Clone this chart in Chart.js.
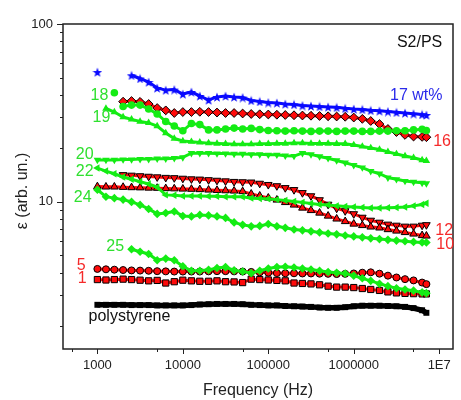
<!DOCTYPE html>
<html>
<head>
<meta charset="utf-8">
<script src="https://cdn.jsdelivr.net/npm/chart.js@4.4.0/dist/chart.umd.min.js"></script>
<style>
  html, body { margin: 0; padding: 0; background: #fff; }
  #wrap { width: 461px; height: 400px; }
</style>
</head>
<body>
<div id="wrap"><canvas id="chart" width="461" height="400"></canvas></div>
<script>
// frequency grid (Hz), shared by every curve
const freq = [1000, 1260, 1580, 2000, 2510, 3160, 3980, 5010, 6310, 7940,
  10000, 12600, 15800, 20000, 25100, 31600, 39800, 50100, 63100, 79400,
  100000, 126000, 158000, 200000, 251000, 316000, 398000, 501000, 631000, 794000,
  1000000, 1260000, 1580000, 2000000, 2510000, 3160000, 3980000, 5010000, 6310000, 7080000];

// permittivity, one list per filler content
const polystyrene = [2.64,2.64,2.64,2.64,2.63,2.63,2.63,2.62,2.62,2.62, 2.62,2.63,2.65,2.66,2.67,2.67,2.67,2.66,2.64,2.63,
  2.62,2.62,2.60,2.59,2.58,2.57,2.55,2.54,2.54,2.56, 2.59,2.61,2.61,2.61,2.60,2.59,2.57,2.53,2.46,2.38];
const wt1 = [3.66,3.64,3.66,3.68,3.66,3.63,3.60,3.62,3.50,3.56, 3.63,3.60,3.58,3.58,3.60,3.56,3.55,3.52,3.68,3.66,
  3.64,3.62,3.60,3.50,3.48,3.46,3.42,3.36,3.32,3.32, 3.30,3.26,3.22,3.18,3.12,3.08,3.06,3.05,3.04,3.04];
const wt5 = [4.20,4.18,4.16,4.14,4.12,4.11,4.10,4.08,4.07,4.06, 4.06,4.06,4.06,4.07,4.08,4.08,4.07,4.06,4.04,4.02,
  4.00,3.98,3.97,3.97,3.96,3.96,3.95,3.94,3.93,3.94, 3.96,4.00,4.02,3.95,3.85,3.76,3.68,3.62,3.52,3.45];
const wt10 = [12.2,12.15,12.15,12.1,12.05,12.02,11.98,11.95,11.9,11.87, 11.83,11.8,11.75,11.68,11.63,11.58,11.53,11.45,11.09,10.81,
  10.53,10.26,9.94,9.62,9.25,8.96,8.67,8.34,8.03,7.77, 7.52,7.38,7.24,7.15,7.0,6.87,6.74,6.61,6.48,6.44];
const wt12 = [null,null,null,14.2,14.1,14.0,13.9,13.8,13.7,13.65, 13.55,13.45,13.4,13.3,13.2,13.1,13.0,12.95,12.9,12.7,
  12.5,12.3,12.0,11.7,11.25,10.8,10.26,9.68,9.2,8.9, 8.56,8.18,7.87,7.67,7.48,7.38,7.29,7.29,7.38,7.43];
const wt16 = [null,null,null,36.6,36.9,36.5,35.5,33.7,32.7,31.6, 32.0,32.0,32.1,32.0,31.8,31.6,31.6,31.4,31.2,31.1,
  31.0,30.9,30.8,30.7,30.6,30.5,30.4,30.3,30.2,30.1, 29.8,29.3,28.5,27.4,25.7,24.7,23.8,23.3,23.2,23.1];
const wt17 = [53.7,null,null,null,51.5,49.4,47.2,43.7,42.5,42.8, 40.4,41.5,39.4,37.4,38.9,39.4,38.9,38.6,37.2,36.7,
  36.2,36.0,35.5,35.3,34.8,34.6,34.4,34.2,34.0,33.6, 33.3,33.1,32.7,32.5,32.2,31.9,31.6,31.3,31.0,30.8];
const wt18 = [null,null,41.1,34.4,35.0,35.0,33.3,31.2,28.3,26.7, 25.1,27.6,27.2,25.4,25.4,25.7,26.0,25.7,25.9,25.5,
  25.2,25.1,25.0,25.1,25.0,24.9,25.0,25.0,24.9,25.0, 25.0,24.9,24.9,25.0,25.0,25.1,25.1,25.4,25.6,25.2];
const wt19 = [null,33.5,32.0,30.0,29.1,28.3,27.8,26.7,24.4,22.7, 22.0,21.8,21.6,21.4,21.3,21.2,21.1,21.1,21.1,21.2,
  21.2,21.3,21.3,21.4,21.4,21.3,21.3,21.3,21.2,21.2, 20.9,20.5,20.1,19.7,19.1,18.6,18.1,17.7,17.2,17.0];
const wt20 = [17.2,17.2,17.2,17.3,17.3,17.4,17.4,17.5,17.5,17.6, 17.8,18.8,18.8,18.8,18.7,18.7,18.6,18.6,18.5,18.5,
  18.4,18.4,18.2,18.1,18.8,18.5,18.0,17.6,17.1,16.6, 16.1,15.6,14.9,14.4,13.7,13.4,13.1,12.95,12.8,12.7];
const wt22 = [15.5,14.9,14.4,13.8,13.4,13.0,12.6,12.1,10.95,10.9, 10.8,10.8,10.8,10.75,10.75,10.7,10.7,10.7,10.5,10.45,
  10.4,10.3,10.2,10.05,9.94,9.8,9.68,9.62,9.5,9.43, 9.37,9.31,9.25,9.25,9.27,9.31,9.37,9.5,9.68,9.83];
const wt24 = [11.7,10.7,10.5,10.3,10.0,9.62,9.13,8.56,8.67,8.84, 8.34,8.29,8.45,8.40,8.29,8.13,7.67,7.43,7.29,7.33,
  7.52,7.29,7.15,7.00,6.92,6.83,6.74,6.65,6.57,6.48, 6.40,6.32,6.24,6.18,6.12,6.06,6.01,5.96,5.92,5.91];
const wt25 = [null,null,null,null,5.42,5.25,5.10,4.70,4.80,4.70, 4.35,4.10,4.10,4.15,4.25,4.30,4.12,4.06,3.98,4.10,
  4.22,4.30,4.32,4.28,4.22,4.17,4.10,4.04,4.00,3.96, 3.85,3.72,3.60,3.47,3.36,3.27,3.22,3.17,3.10,3.07];

// axis ticks
const xMajor = [1000, 10000, 100000, 1000000, 10000000];
const xTickLabels = ['1000', '10000', '100000', '1000000', '1E7'];
const xMinor = [500, 5000, 50000, 500000, 5000000];
const yMajor = [10, 100];
const yTickLabels = ['10', '100'];
const yMinor = [2, 3, 4, 5, 6, 7, 8, 9, 20, 30, 40, 50, 60, 70, 80, 90];

// curve labels, placed in data coordinates [freq, eps]
const notes = [
  ['S2/PS', 3.2e6, 73.8, '#111'],
  ['17 wt%', 2.66e6, 37.4, '#2b2bea'],
  ['16', 8.5e6, 20.5, '#f52a2a'],
  ['18', 832, 37.4, '#2fe02f'],
  ['19', 877, 28.2, '#2fe02f'],
  ['20', 558, 17.4, '#2fe02f'],
  ['22', 558, 13.9, '#2fe02f'],
  ['24', 530, 10.0, '#2fe02f'],
  ['25', 1270, 5.33, '#2fe02f'],
  ['5', 574, 4.15, '#f52a2a'],
  ['1', 589, 3.49, '#f52a2a'],
  ['polystyrene', 788, 2.13, '#111'],
  ['12', 9.0e6, 6.53, '#f52a2a'],
  ['10', 9.24e6, 5.42, '#f52a2a']
];

const GREEN = '#14ec14';
const RED = '#ff0a0a';
const BLUE = '#0a0aff';
const FONT = '"Liberation Sans", Arial, sans-serif';

function starImage(color, size) {
  const c = document.createElement('canvas');
  c.width = c.height = size;
  const g = c.getContext('2d');
  g.fillStyle = color;
  g.beginPath();
  for (let k = 0; k < 10; k++) {
    const r = k % 2 ? size * 0.21 : size * 0.5;
    const a = -Math.PI / 2 + k * Math.PI / 5;
    g.lineTo(size / 2 + r * Math.cos(a), size / 2 + 0.6 + r * Math.sin(a));
  }
  g.closePath();
  g.fill();
  return c;
}

// a thin band in the marker colour fills the space between markers,
// except across big jumps (isolated first points)
function series(values, style, band) {
  const pts = values.map((v, i) => ({ x: freq[i], y: v }));
  return Object.assign({
    data: pts, showLine: true, spanGaps: false, pointHoverRadius: 0,
    borderWidth: 3, borderColor: band,
    segment: { borderColor: c => (Math.abs(Math.log(c.p0.parsed.y / c.p1.parsed.y)) > 0.12 ? 'transparent' : band) }
  }, style);
}

const green = (shape, rot, r) => ({ pointStyle: shape, rotation: rot, pointRadius: r,
  pointBackgroundColor: GREEN, pointBorderColor: GREEN, pointBorderWidth: 0 });
const red = (shape, rot, r) => ({ pointStyle: shape, rotation: rot, pointRadius: r,
  pointBackgroundColor: RED, pointBorderColor: '#000', pointBorderWidth: 1 });

// first dataset is painted on top
const datasets = [
  series(wt25, green('rectRot', 0, 4.3), GREEN),
  series(wt24, green('rectRot', 0, 4.3), GREEN),
  series(wt22, green('triangle', 270, 4.3), GREEN),
  series(wt20, green('triangle', 180, 4.3), GREEN),
  series(wt19, green('triangle', 0, 4.3), GREEN),
  series(wt18, green('circle', 0, 3.8), GREEN),
  series(wt1, red('rect', 0, 4.4), RED),
  series(wt5, red('circle', 0, 3.5), RED),
  series(wt10, red('triangle', 0, 4.4), RED),
  series(wt12, red('triangle', 180, 4.4), RED),
  series(wt16, red('rectRot', 0, 4.4), RED),
  series(wt17, { pointStyle: starImage(BLUE, 10), pointRadius: 5 }, BLUE),
  series(polystyrene, { pointStyle: 'rect', pointRadius: 4.2, pointBackgroundColor: '#000', pointBorderWidth: 0, borderWidth: 5.5 }, '#000')
];

// frame, ticks, tick labels, titles and curve labels
const framePlugin = {
  id: 'frame',
  afterDraw(chart) {
    const { ctx, chartArea: a, scales: { x, y } } = chart;
    ctx.save();
    ctx.strokeStyle = '#222';
    ctx.lineWidth = 1.5;
    ctx.strokeRect(a.left, a.top, a.right - a.left, a.bottom - a.top);
    ctx.lineWidth = 1;
    ctx.beginPath();
    xMajor.forEach(v => { const p = Math.round(x.getPixelForValue(v)) + 0.5; ctx.moveTo(p, a.bottom); ctx.lineTo(p, a.bottom + 5); });
    xMinor.forEach(v => { const p = Math.round(x.getPixelForValue(v)) + 0.5; ctx.moveTo(p, a.bottom); ctx.lineTo(p, a.bottom + 3); });
    yMajor.forEach(v => { const p = Math.round(y.getPixelForValue(v)) + 0.5; ctx.moveTo(a.left, p); ctx.lineTo(a.left - 6, p); });
    yMinor.forEach(v => { const p = Math.round(y.getPixelForValue(v)) + 0.5; ctx.moveTo(a.left, p); ctx.lineTo(a.left - 3, p); });
    ctx.stroke();

    ctx.fillStyle = '#222';
    ctx.font = '13px ' + FONT;
    ctx.textBaseline = 'middle';
    ctx.textAlign = 'center';
    xMajor.forEach((v, i) => ctx.fillText(xTickLabels[i], x.getPixelForValue(v), a.bottom + 16.5));
    ctx.textAlign = 'right';
    yMajor.forEach((v, i) => ctx.fillText(yTickLabels[i], a.left - 10, y.getPixelForValue(v)));

    ctx.font = '16px ' + FONT;
    ctx.textBaseline = 'alphabetic';
    ctx.textAlign = 'center';
    ctx.fillText('Frequency (Hz)', (a.left + a.right) / 2, 395);
    ctx.save();
    ctx.translate(27, 191);
    ctx.rotate(-Math.PI / 2);
    ctx.fillText('ε (arb. un.)', 0, 0);
    ctx.restore();

    ctx.textAlign = 'left';
    notes.forEach(([t, fx, fy, c]) => {
      ctx.fillStyle = c;
      ctx.fillText(t, x.getPixelForValue(fx), y.getPixelForValue(fy));
    });
    ctx.restore();
  }
};

new Chart(document.getElementById('chart'), {
  type: 'scatter',
  data: { datasets },
  options: {
    responsive: false,
    animation: false,
    layout: { padding: { top: 24, right: 1, left: 63, bottom: 51 } },
    plugins: { legend: { display: false }, tooltip: { enabled: false } },
    scales: {
      x: { type: 'logarithmic', min: 396, max: 14500000, display: false },
      y: { type: 'logarithmic', min: 1.49, max: 100, display: false }
    }
  },
  plugins: [framePlugin]
});
</script>
</body>
</html>
